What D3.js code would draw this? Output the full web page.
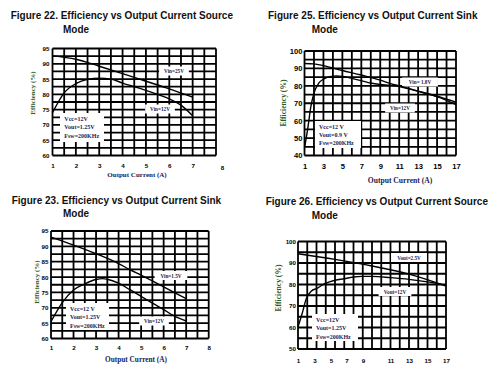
<!DOCTYPE html>
<html><head><meta charset="utf-8">
<script src="https://cdn.jsdelivr.net/npm/d3@7"></script>
<style>body{margin:0;background:#fff}svg{display:block}</style>
</head><body>
<script>
// ---------- DATA ----------
// Figure 22 (source mode, 1-8 A)
const fig22Title = ["Figure 22. Efficiency vs Output Current Source", "Mode"];
const fig22XTicks = [1, 2, 3, 4, 5, 6, 7, 8];
const fig22YTicks = [60, 65, 70, 75, 80, 85, 90, 95];
const fig22Vin25X = [1, 2, 3, 4, 5, 6, 7];
const fig22Vin25Y = [92.6, 91.5, 89.2, 86.8, 84.3, 81.8, 79.1];
const fig22Vin12X = [1, 1.5, 2, 2.5, 3, 3.5, 4, 5, 6, 6.5, 7];
const fig22Vin12Y = [74, 80.5, 83.5, 84.9, 85.3, 85, 83.7, 81.3, 78.5, 76.5, 73];
const fig22Labels = ["Vin=25V", "Vin=12V"];
const fig22Notes = ["Vcc=12V", "Vout=1.25V", "Fsw=200KHz"];

// Figure 25 (sink mode, 1-17 A)
const fig25Title = ["Figure 25. Efficiency vs Output Current Sink", "Mode"];
const fig25XTicks = [1, 3, 5, 7, 9, 11, 13, 15, 17];
const fig25YTicks = [40, 50, 60, 70, 80, 90, 100];
const fig25Vin18X = [1, 2, 3, 5, 7, 9, 10, 11, 13, 15, 17];
const fig25Vin18Y = [92.8, 92.6, 91.6, 88.8, 86.2, 83.3, 81.4, 80, 77, 73.8, 69.2];
const fig25Vin12X = [1, 1.35, 1.67, 2, 2.5, 3, 3.7, 4.4, 5, 6, 7, 8, 9, 10, 11, 13, 15, 17];
const fig25Vin12Y = [44.2, 55.7, 68, 75.8, 81.5, 83.8, 85.3, 85.7, 85.4, 84.3, 83, 81.6, 80.8, 80.3, 79.6, 76.8, 74, 70.6];
const fig25Labels = ["Vin= 1.8V", "Vin=12V"];
const fig25Notes = ["Vcc=12 V", "Vout=0.9 V", "Fsw=200KHz"];

// Figure 23 (sink mode, 1-8 A)
const fig23Title = ["Figure 23. Efficiency vs Output Current Sink", "Mode"];
const fig23XTicks = [1, 2, 3, 4, 5, 6, 7, 8];
const fig23YTicks = [60, 65, 70, 75, 80, 85, 90, 95];
const fig23Vin15X = [1, 2, 3, 4, 4.5, 5, 6, 7];
const fig23Vin15Y = [93, 90.4, 87.6, 84.4, 82.4, 80.6, 76.8, 73];
const fig23Vin12X = [1, 1.5, 2, 2.5, 3, 3.3, 3.5, 4, 4.5, 5, 5.5, 6, 6.5, 7];
const fig23Vin12Y = [65.5, 71.7, 75.8, 77.8, 79.2, 79.5, 79.3, 78, 75.9, 73.7, 71.5, 69.4, 67.2, 65.7];
const fig23Labels = ["Vin=1.5V", "Vin=12V"];
const fig23Notes = ["Vcc=12 V", "Vout=1.25V", "Fsw=200KHz"];

// Figure 26 (source mode, 1-17 A)
const fig26Title = ["Figure 26. Efficiency vs Output Current Source", "Mode"];
const fig26XTicks = [1, 3, 5, 7, 9, 11, 13, 15, 17];
const fig26YTicks = [50, 60, 70, 80, 90, 100];
const fig26Vout25X = [1, 5, 9, 13, 17];
const fig26Vout25Y = [94.3, 91.7, 88.6, 84.8, 79.3];
const fig26Vout12X = [1, 1.45, 1.9, 2.45, 3, 3.9, 5, 6, 7, 7.9, 9, 11, 13, 15, 17];
const fig26Vout12Y = [60.3, 66.5, 73.5, 77, 78.1, 80.4, 82, 82.7, 83.5, 83.8, 83.8, 83.2, 82.4, 81.2, 79.6];
const fig26Labels = ["Vout=2.5V", "Vout=12V"];
const fig26Notes = ["Vcc=12V", "Vout=1.25V", "Fsw=200KHz"];

// ---------- LAYOUT ----------
const W = 493, H = 369;
const svg = d3.select("body").append("svg").attr("width", W).attr("height", H);
const NAVY = "#1c1c52", GREEN = "#2f5a1c";
const SANS = "'Liberation Sans', Arial, sans-serif";
const SERIF = "'Liberation Serif', 'Times New Roman', serif";

const charts = [
  { title: fig22Title, tx: 10.7, ty: 19.3, mx: 63,
    box: {l: 52.5, r: 216, t: 48.5, b: 155.5}, xd: [1, 8], yd: [60, 95], xs: 0.5, ys: 2.5,
    xt: fig22XTicks, yt: fig22YTicks, tfs: 6.2, xpad: 8.3, ypad: 3,
    xshift: {8: [6, 2]},
    series: [[fig22Vin25X, fig22Vin25Y], [fig22Vin12X, fig22Vin12Y]],
    labels: fig22Labels, lpos: [[174, 71.5], [160, 109.5]],
    notes: fig22Notes, npos: [64.3, 121], nbox: [60, 113, 44, 29],
    xtitle: [137, 176.5, 7], ytitle: [33, 93, 7] },
  { title: fig25Title, tx: 268, ty: 19.3, mx: 311.7,
    box: {l: 304.5, r: 456, t: 51, b: 155.5}, xd: [1, 17], yd: [40, 100], xs: 1, ys: 5,
    xt: fig25XTicks, yt: fig25YTicks, tfs: 7.6, xpad: 8.2, ypad: 2,
    xshift: {},
    series: [[fig25Vin18X, fig25Vin18Y], [fig25Vin12X, fig25Vin12Y]],
    labels: fig25Labels, lpos: [[420, 82.5], [400, 108.5]],
    notes: fig25Notes, npos: [319, 128.7], nbox: [315, 121, 46, 27],
    xtitle: [400, 183.3, 7.6], ytitle: [283, 103, 7.6] },
  { title: fig23Title, tx: 11.7, ty: 203.6, mx: 63,
    box: {l: 51, r: 208.7, t: 231, b: 338.5}, xd: [1, 8], yd: [60, 95], xs: 0.5, ys: 2.5,
    xt: fig23XTicks, yt: fig23YTicks, tfs: 6.2, xpad: 7, ypad: 2.5,
    xshift: {},
    series: [[fig23Vin15X, fig23Vin15Y], [fig23Vin12X, fig23Vin12Y]],
    labels: fig23Labels, lpos: [[171, 276], [154, 321.5]],
    notes: fig23Notes, npos: [70, 311], nbox: [66, 303, 43, 27],
    xtitle: [136, 361.7, 7.3], ytitle: [37, 282, 7] },
  { title: fig26Title, tx: 265.7, ty: 205.3, mx: 311.7,
    box: {l: 298, r: 446, t: 241.5, b: 349}, xd: [1, 17], yd: [50, 100], xs: 1, ys: 5,
    xt: fig26XTicks, yt: fig26YTicks, tfs: 6.2, xpad: 9.5, ypad: 2,
    xshift: {3: [-2, 0], 5: [-4, 0], 7: [-7, 0], 9: [-9, 0]},
    series: [[fig26Vout25X, fig26Vout25Y], [fig26Vout12X, fig26Vout12Y]],
    labels: fig26Labels, lpos: [[409, 258], [395, 292]],
    notes: fig26Notes, npos: [316, 322], nbox: [312, 314, 46, 27],
    xtitle: null, ytitle: [278, 288, 7.6] }
];

charts.forEach(c => {
  const g = svg.append("g");
  // title
  g.append("text").attr("x", c.tx).attr("y", c.ty).text(c.title[0])
    .attr("font-family", SANS).attr("font-weight", "bold").attr("font-size", 10).attr("fill", "#111");
  g.append("text").attr("x", c.mx).attr("y", c.ty + 13.3).text(c.title[1])
    .attr("font-family", SANS).attr("font-weight", "bold").attr("font-size", 10).attr("fill", "#111");

  const x = d3.scaleLinear().domain(c.xd).range([c.box.l, c.box.r]);
  const y = d3.scaleLinear().domain(c.yd).range([c.box.b, c.box.t]);

  // grid
  const gx = d3.range(c.xd[0], c.xd[1] + 1e-6, c.xs);
  const gy = d3.range(c.yd[0], c.yd[1] + 1e-6, c.ys);
  g.append("g").selectAll("line").data(gx).join("line")
    .attr("x1", d => x(d)).attr("x2", d => x(d)).attr("y1", c.box.t).attr("y2", c.box.b)
    .attr("stroke", "#000").attr("stroke-width", 1.8);
  g.append("g").selectAll("line").data(gy).join("line")
    .attr("y1", d => y(d)).attr("y2", d => y(d)).attr("x1", c.box.l).attr("x2", c.box.r)
    .attr("stroke", "#000").attr("stroke-width", 1.8);

  // axes (labels only)
  const ax = g.append("g").attr("transform", `translate(0,${c.box.b})`)
    .call(d3.axisBottom(x).tickValues(c.xt).tickSize(0).tickPadding(c.xpad).tickFormat(d3.format("d")));
  const ay = g.append("g").attr("transform", `translate(${c.box.l},0)`)
    .call(d3.axisLeft(y).tickValues(c.yt).tickSize(0).tickPadding(c.ypad).tickFormat(d3.format("d")));
  [ax, ay].forEach(a => {
    a.select(".domain").remove();
    a.selectAll("text").attr("font-family", SANS).attr("font-weight", "bold")
      .attr("font-size", c.tfs).attr("fill", "#000");
  });
  ax.selectAll(".tick").each(function(d) {
    const s = c.xshift[d];
    if (s) d3.select(this).select("text").attr("dx", s[0]).attr("y", c.xpad + s[1]);
  });

  // annotation box
  g.append("rect").attr("x", c.nbox[0]).attr("y", c.nbox[1]).attr("width", c.nbox[2]).attr("height", c.nbox[3]).attr("fill", "#fff");
  c.notes.forEach((t, i) => {
    g.append("text").attr("x", c.npos[0]).attr("y", c.npos[1] + i * 8.3).text(t)
      .attr("font-family", SERIF).attr("font-weight", "bold").attr("font-size", 6).attr("fill", NAVY);
  });

  // series label boxes
  c.labels.forEach((t, i) => {
    const [lx, ly] = c.lpos[i];
    const tw = t.length * 3.1;
    g.append("rect").attr("x", lx - tw / 2 - 4).attr("y", ly - 5).attr("width", tw + 8).attr("height", 9).attr("fill", "#fff");
  });

  // curves
  const line = d3.line().x(d => x(d[0])).y(d => y(d[1])).curve(d3.curveMonotoneX);
  c.series.forEach(([xs, ys]) => {
    g.append("path").datum(xs.map((v, i) => [v, ys[i]])).attr("d", line)
      .attr("fill", "none").attr("stroke", "#000").attr("stroke-width", 1.4);
  });

  c.labels.forEach((t, i) => {
    const [lx, ly] = c.lpos[i];
    g.append("text").attr("x", lx).attr("y", ly + 1.8).attr("text-anchor", "middle").text(t)
      .attr("font-family", SERIF).attr("font-weight", "bold").attr("font-size", 5.2).attr("fill", NAVY);
  });

  // axis titles
  if (c.xtitle) {
    g.append("text").attr("x", c.xtitle[0]).attr("y", c.xtitle[1]).attr("text-anchor", "middle")
      .text("Output Current (A)").attr("font-family", SERIF).attr("font-weight", "bold")
      .attr("font-size", c.xtitle[2]).attr("fill", NAVY);
  }
  g.append("text").attr("transform", `translate(${c.ytitle[0]},${c.ytitle[1]}) rotate(-90)`)
    .attr("text-anchor", "middle").attr("dy", "0.35em").text("Efficiency (%)")
    .attr("font-family", SERIF).attr("font-weight", "bold").attr("font-size", c.ytitle[2]).attr("fill", GREEN);
});
</script>
</body></html>
